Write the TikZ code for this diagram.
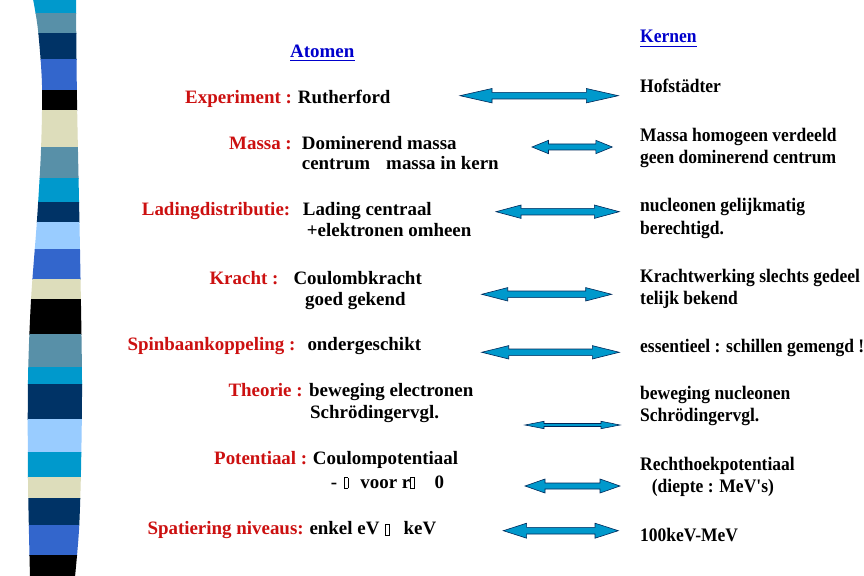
\documentclass[tikz,border=0pt]{standalone}
\usepackage{fontspec}
\setmainfont{Liberation Serif}
\newfontfamily\condserif{Liberation Serif}[FakeStretch=0.915]
\usetikzlibrary{calc}
\definecolor{labred}{RGB}{204,16,16}
\definecolor{headblue}{RGB}{0,0,204}
\definecolor{arrcyan}{RGB}{0,153,204}
\definecolor{arrline}{RGB}{0,40,90}
\definecolor{bcyan}{RGB}{0,153,204}
\definecolor{bsteel}{RGB}{88,144,168}
\definecolor{bnavy}{RGB}{0,51,102}
\definecolor{broyal}{RGB}{51,102,204}
\definecolor{bbeige}{RGB}{221,221,187}
\definecolor{blight}{RGB}{153,204,255}
\newcommand{\tofubox}{{\setlength{\fboxsep}{0pt}\setlength{\fboxrule}{0.6pt}\fbox{\rule{0pt}{10bp}\hspace{3bp}}}}
% #1 left end, #2 right end, #3 shaft half height, #4 head half height, #5 head length
\newcommand{\dblarrow}[5]{%
  \filldraw[dblarrow] (#1) -- ($(#1)+(#5,#4)$) -- ($(#1)+(#5,#3)$) -- ($(#2)+(-#5,#3)$) -- ($(#2)+(-#5,#4)$) -- (#2)
    -- ($(#2)+(-#5,-#4)$) -- ($(#2)+(-#5,-#3)$) -- ($(#1)+(#5,-#3)$) -- ($(#1)+(#5,-#4)$) -- cycle;}
\begin{document}
\begin{tikzpicture}[x=1bp,y=-1bp,
  lt/.style={anchor=base west, inner sep=0pt, font=\fontsize{19}{21}\selectfont\bfseries},
  lred/.style={lt, text=labred},
  rt/.style={anchor=base west, inner sep=0pt, font=\condserif\fontsize{19.2}{23}\selectfont\bfseries},
  lhead/.style={lt, text=headblue},
  rhead/.style={rt, text=headblue},
  uline/.style={draw=headblue, line width=1bp},
  dblarrow/.style={fill=arrcyan, draw=arrline, line width=0.6bp, line join=miter}]
\useasboundingbox (0,0) rectangle (864,576);
\clip (0,0) rectangle (864,576);
\fill[white] (0,0) rectangle (864,576);

% striped band
\begin{scope}
\clip plot[smooth] coordinates {(33,-1) (38,30) (42,85) (41,150) (37,220) (31,300) (28,380) (28,480) (30,577)}
  -- plot[smooth] coordinates {(75,577) (79,530) (81,470) (82,380) (80,250) (77,100) (76,-1)} -- cycle;
\foreach \a/\b/\c in {-1/13/bcyan, 13/33/bsteel, 33/59/bnavy, 59/90/broyal, 90/110/black, 110/147/bbeige,
  147/178/bsteel, 178/202/bcyan, 202/222/bnavy, 222/249/blight, 249/279/broyal, 279/299/bbeige,
  299/334/black, 334/367/bsteel, 367/384/bcyan, 384/419/bnavy, 419/452/blight, 452/477/bcyan,
  477/498/bbeige, 498/525/bnavy, 525/555/broyal, 555/577/black}
  \fill[\c] (0,\a) rectangle (100,\b+0.6);
\end{scope}

% headers
\node[lhead] (ato) at (290,57.3) {Atomen};
\draw[uline] ($(ato.base west)+(0,3.4)$) -- ($(ato.base east)+(0,3.4)$);
\node[rhead] (ker) at (640,42.7) {Kernen};
\draw[uline] ($(ker.base west)+(0,3.4)$) -- ($(ker.base east)+(0,3.4)$);

% left column
\node[lred] (l1) at (185,104) {Experiment :};
\node[lt] (v1) at (297.7,104) {Rutherford};
\node[lred] (l2) at (229,149.3) {Massa :};
\node[lt] (v2a) at (301.7,149.3) {Dominerend massa};
\node[lt] (v2b) at (301.7,170) {centrum\hspace{16bp}massa in kern};
\node[lred] (l3) at (141.7,215.7) {Ladingdistributie:};
\node[lt] (v3a) at (302.7,215.7) {Lading centraal};
\node[lt] (v3b) at (306.7,236.7) {+elektronen omheen};
\node[lred] (l4) at (209.3,284) {Kracht :};
\node[lt] (v4a) at (293.3,284) {Coulombkracht};
\node[lt] (v4b) at (305,305) {goed gekend};
\node[lred] (l5) at (127.3,350.7) {Spinbaankoppeling :};
\node[lt] (v5) at (307.3,350.7) {ondergeschikt};
\node[lred] (l6) at (228.3,396.7) {Theorie :};
\node[lt] (v6a) at (309,396.7) {beweging electronen};
\node[lt] (v6b) at (310,418) {Schrödingervgl.};
\node[lred] (l7) at (214,464) {Potentiaal :};
\node[lt] (v7a) at (312.7,464) {Coulompotentiaal};
\node[lt] (v7b) at (330.7,488) {-\hspace{7bp}\tofubox\hspace{12bp}voor r\tofubox\hspace{20bp}0};
\node[lred] (l8) at (147.3,534.5) {Spatiering niveaus:};
\node[lt] (v8) at (309.3,534.5) {enkel eV\hspace{6bp}\tofubox\hspace{14bp}keV};

% right column
\node[rt] (r1) at (640,92.7) {Hofstädter};
\node[rt] (r2a) at (640,141.2) {Massa homogeen verdeeld};
\node[rt] (r2b) at (640,163.5) {geen dominerend centrum};
\node[rt] (r3a) at (640,212) {nucleonen gelijkmatig};
\node[rt] (r3b) at (640,235) {berechtigd.};
\node[rt] (r4a) at (640,282.5) {Krachtwerking slechts gedeel};
\node[rt] (r4b) at (640,304.5) {telijk bekend};
\node[rt] (r5) at (640,352.3) {essentieel : schillen gemengd !};
\node[rt] (r6a) at (640,399.5) {beweging nucleonen};
\node[rt] (r6b) at (640,421.7) {Schrödingervgl.};
\node[rt] (r7a) at (640,470) {Rechthoekpotentiaal};
\node[rt] (r7b) at (651.7,492) {(diepte : MeV's)};
\node[rt] (r8) at (640,541) {100keV-MeV};

% double arrows
\coordinate (a1l) at (460,95.7);   \coordinate (a1r) at (618.3,95.7);
\coordinate (a2l) at (532,147);    \coordinate (a2r) at (612.3,147);
\coordinate (a3l) at (496,211.7);  \coordinate (a3r) at (619.3,211.7);
\coordinate (a4l) at (481.7,294.3);\coordinate (a4r) at (611.7,294.3);
\coordinate (a5l) at (481.7,352.3);\coordinate (a5r) at (619.3,352.3);
\coordinate (a6l) at (525,425);    \coordinate (a6r) at (620,425);
\coordinate (a7l) at (525,486);    \coordinate (a7r) at (620,486);
\coordinate (a8l) at (503.3,530.7);\coordinate (a8r) at (618.3,530.7);
\dblarrow{a1l}{a1r}{3.3}{7.2}{32}
\dblarrow{a2l}{a2r}{3}{6.7}{16.5}
\dblarrow{a3l}{a3r}{3.3}{6.7}{25}
\dblarrow{a4l}{a4r}{3.3}{6.7}{26}
\dblarrow{a5l}{a5r}{3.3}{6.7}{27}
\dblarrow{a6l}{a6r}{1.5}{3.7}{19}
\dblarrow{a7l}{a7r}{3}{7}{20}
\dblarrow{a8l}{a8r}{3.3}{7.5}{23.3}
\end{tikzpicture}
\end{document}
